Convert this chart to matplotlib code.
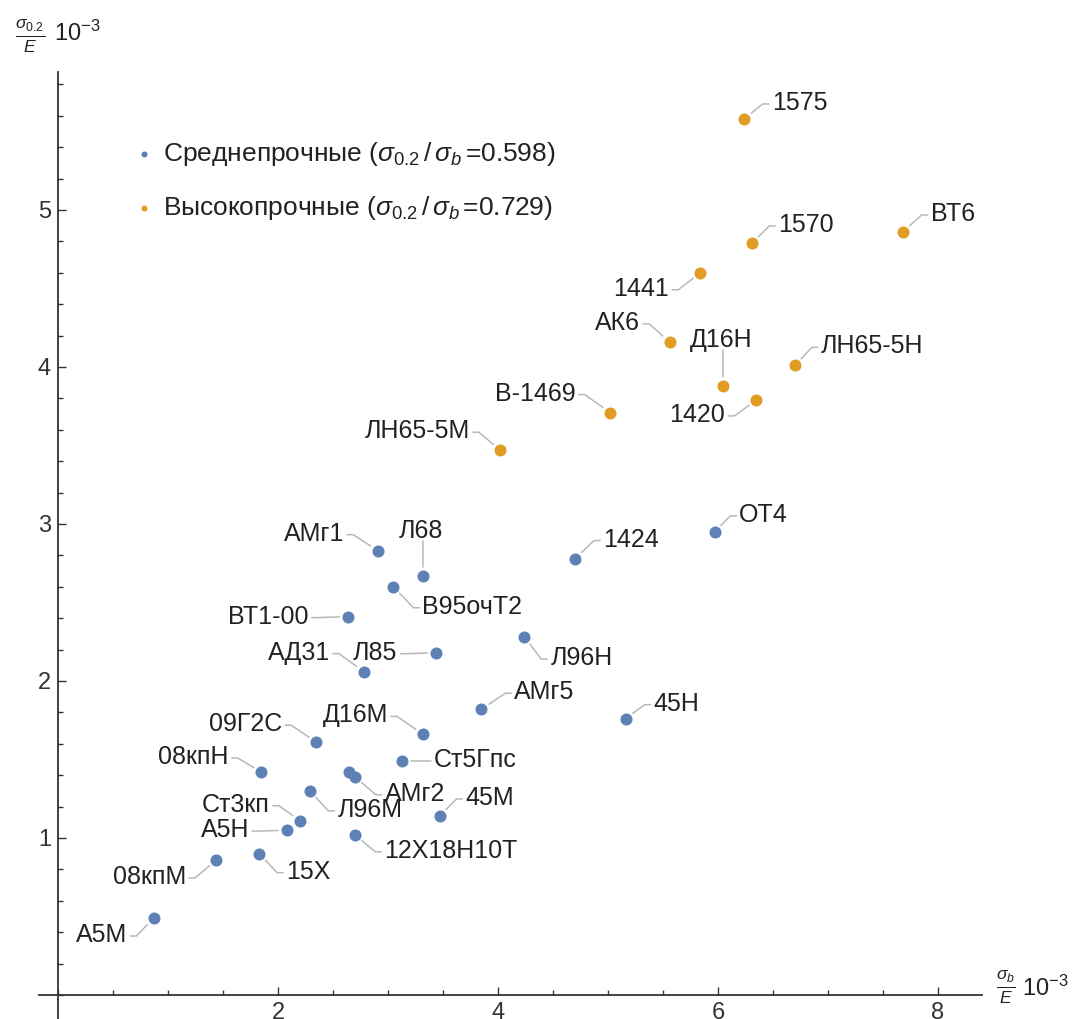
import numpy as np
import matplotlib.pyplot as plt
from matplotlib.ticker import MultipleLocator

plt.rcParams['font.family'] = ['Liberation Sans', 'DejaVu Sans']
plt.rcParams['mathtext.fontset'] = 'custom'
plt.rcParams['mathtext.rm'] = 'Liberation Sans'
plt.rcParams['mathtext.it'] = 'Liberation Sans:italic'
plt.rcParams['mathtext.bf'] = 'Liberation Sans:bold'

# среднепрочные, sigma_b/E и sigma_0.2/E (x 10^-3)
mid_names = ['ОТ4', '1424', 'АМг1', 'Л68', 'В95очТ2', 'ВТ1-00', 'Л96Н', 'Л85',
             'АД31', 'АМг5', '45Н', '09Г2С', 'Д16М', 'Ст5Гпс', '08кпН', '',
             'АМг2', 'Л96М', 'Ст3кп', '45М', 'А5Н', '12Х18Н10Т', '15Х',
             '08кпМ', 'А5М']
mid_x = [5.97, 4.70, 2.91, 3.32, 3.05, 2.64, 4.24, 3.44,
         2.78, 3.85, 5.16, 2.35, 3.32, 3.13, 1.85, 2.65,
         2.70, 2.29, 2.20, 3.47, 2.08, 2.70, 1.83,
         1.44, 0.87]
mid_y = [2.95, 2.78, 2.83, 2.67, 2.60, 2.41, 2.28, 2.18,
         2.06, 1.82, 1.76, 1.61, 1.66, 1.49, 1.42, 1.42,
         1.39, 1.30, 1.11, 1.14, 1.05, 1.02, 0.90,
         0.86, 0.49]

# высокопрочные
high_names = ['1575', '1570', 'ВТ6', '1441', 'АК6', 'Д16Н', 'ЛН65-5Н', '1420',
              'В-1469', 'ЛН65-5М']
high_x = [6.24, 6.31, 7.68, 5.84, 5.56, 6.05, 6.70, 6.35, 5.02, 4.02]
high_y = [5.58, 4.79, 4.86, 4.60, 4.16, 3.88, 4.01, 3.79, 3.71, 3.47]

mid_label = r'Среднепрочные ($\sigma_{0.2}\,$/$\,\sigma_b\,$=0.598)'
high_label = r'Высокопрочные ($\sigma_{0.2}\,$/$\,\sigma_b\,$=0.729)'

# where each callout sits relative to its point, pixels (right, down)
label_offsets = {
    '1575': (55, -16), '1570': (54, -18), 'ВТ6': (50, -18), '1441': (-59, 16),
    'АК6': (-52, -19), 'Д16Н': (-2, -46), 'ЛН65-5Н': (77, -19), '1420': (-59, 15),
    'В-1469': (-75, -19), 'ЛН65-5М': (-83, -19),
    'ОТ4': (49, -17), '1424': (56, -19), 'АМг1': (-64, -17), 'Л68': (-2, -45),
    'В95очТ2': (79, 20), 'ВТ1-00': (-80, 0), 'Л96Н': (57, 21), 'Л85': (-61, 0),
    'АД31': (-65, -19), 'АМг5': (63, -17), '45Н': (51, -15), '09Г2С': (-71, -18),
    'Д16М': (-68, -19), 'Ст5Гпс': (73, -1), '08кпН': (-68, -15), 'АМг2': (60, 17),
    'Л96М': (60, 19), 'Ст3кп': (-64, -16), '45М': (50, -18), 'А5Н': (-62, 0),
    '12Х18Н10Т': (96, 16), '15Х': (49, 18), '08кпМ': (-67, 17), 'А5М': (-52, 17),
}

blue = '#5E81B5'
orange = '#E19C24'
axis_col = '#333333'

W, H = 1081, 1019
fig = plt.figure(figsize=(W / 100, H / 100), dpi=100)
ax = fig.add_axes([38.6 / W, 0, (982 - 38.6) / W, (1019 - 72) / H])
ax.set_xlim(-0.176, 8.4)
ax.set_ylim(-0.153, 5.879)

for s in ['top', 'right']:
    ax.spines[s].set_visible(False)
for s in ['left', 'bottom']:
    ax.spines[s].set_position(('data', 0))
    ax.spines[s].set_color(axis_col)
    ax.spines[s].set_linewidth(1.3)

ax.set_xticks([2, 4, 6, 8])
ax.set_yticks([1, 2, 3, 4, 5])
ax.xaxis.set_minor_locator(MultipleLocator(0.5))
ax.yaxis.set_minor_locator(MultipleLocator(0.2))
ax.tick_params(which='both', direction='in', color=axis_col, width=1.0,
               labelsize=17, labelcolor='#333333')
ax.tick_params(which='major', length=6)
ax.tick_params(which='minor', length=3.5)
ax.tick_params(axis='x', pad=5)
ax.tick_params(axis='y', pad=5)

h_mid = ax.scatter(mid_x, mid_y, s=75, color=blue, linewidths=0, zorder=3,
                   label=mid_label)
h_high = ax.scatter(high_x, high_y, s=75, color=orange, linewidths=0, zorder=3,
                    label=high_label)

ax.legend(handles=[h_mid, h_high], loc='upper left',
          bbox_to_anchor=(137 / W, 1 - 140 / H), bbox_transform=fig.transFigure,
          frameon=False, fontsize=19, markerscale=0.5, handlelength=0.55,
          handletextpad=0.45, labelspacing=1.0, borderpad=0, borderaxespad=0,
          labelcolor='#222222')

# callouts
anns = []
for names, xs, ys in [(mid_names, mid_x, mid_y), (high_names, high_x, high_y)]:
    for name, x, y in zip(names, xs, ys):
        if not name:
            continue
        dx, dy = label_offsets[name]
        a = ax.annotate(name, (x, y), xytext=(dx, -dy), textcoords='offset pixels',
                        ha='center', va='center', fontsize=18, color='#222222',
                        zorder=4)
        anns.append((a, x, y, dx))

fig.canvas.draw()
renderer = fig.canvas.get_renderer()
inv = ax.transData.inverted()
for a, x, y, dx in anns:
    bb = a.get_window_extent(renderer)
    px, py = ax.transData.transform((x, y))
    if abs(dx) < 15:
        pts = [(px, py + 9), (px, bb.y0 + 2)]
    else:
        ex = bb.x0 - 3 if dx > 0 else bb.x1 + 3
        ey = (bb.y0 + bb.y1) / 2 - 1
        sgn = 1 if dx > 0 else -1
        vx, vy = ex - sgn * 6 - px, ey - py
        n = np.hypot(vx, vy)
        st = (px + 9 * vx / n, py + 9 * vy / n)
        pts = [st, (ex - sgn * 6, ey), (ex, ey)]
    d = inv.transform(pts)
    ax.plot(d[:, 0], d[:, 1], color='#B8B8B8', lw=1.1, zorder=2,
            solid_capstyle='round')

# axis captions
fig.text(30 / W, 1 - 36 / H, r'$\frac{\sigma_{0.2}}{E}$', fontsize=18,
         ha='center', va='center', color='#222222')
fig.text(54 / W, 1 - 33 / H, r'10$^{-3}$', fontsize=17, ha='left', va='center',
         color='#222222')
fig.text(1006 / W, 1 - 987 / H, r'$\frac{\sigma_b}{E}$', fontsize=18,
         ha='center', va='center', color='#222222')
fig.text(1022 / W, 1 - 988 / H, r'10$^{-3}$', fontsize=17, ha='left', va='center',
         color='#222222')

fig.savefig('out.png', dpi=100)
